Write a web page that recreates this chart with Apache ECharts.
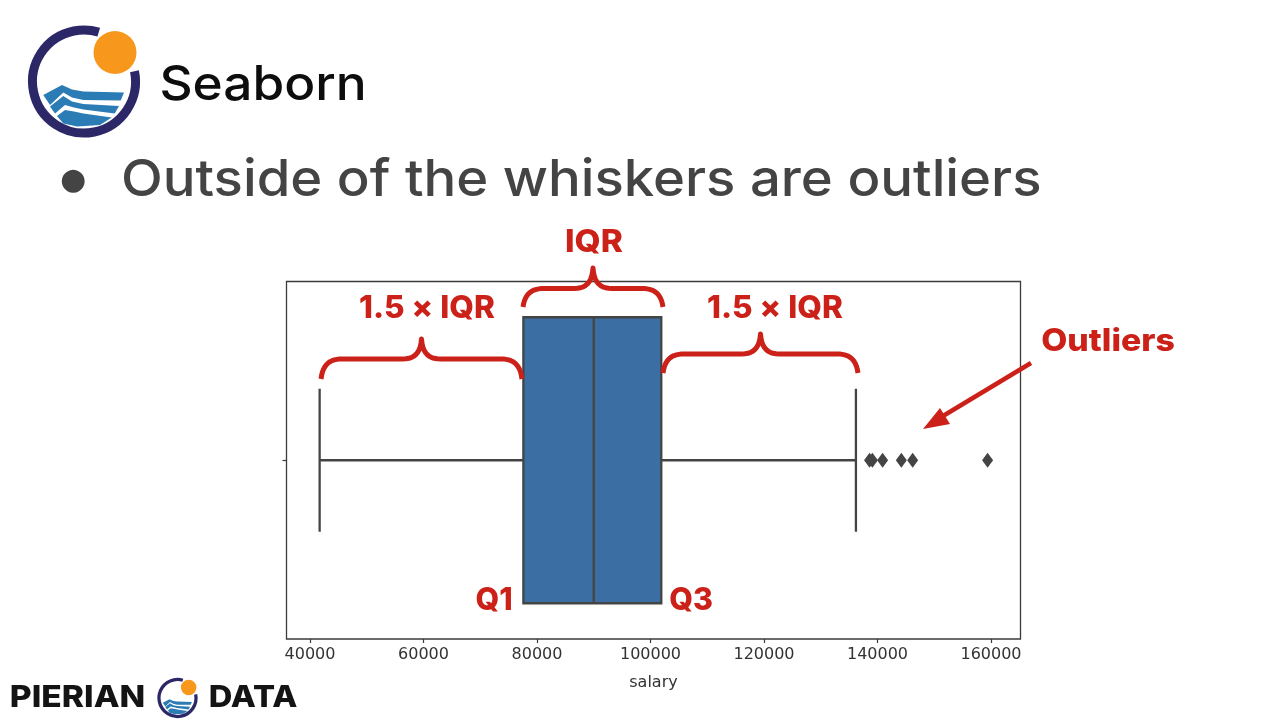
<!DOCTYPE html>
<html><head><meta charset="utf-8">
<style>html,body{margin:0;padding:0;background:#fff}#c{width:1280px;height:720px}</style>
<script src="https://cdn.jsdelivr.net/npm/echarts@6/dist/echarts.min.js"></script>
</head><body><div id="c"></div>
<script>
const boxStats = [41700, 77600, 90000, 101900, 136200];
const outliers = [138600, 139100, 140900, 144200, 146200, 159400];
const xTicks = [40000, 60000, 80000, 100000, 120000, 140000, 160000];
const categories = [''];
const RED = '#CB2118', GREY = '#444444', DARK = '#3b3b3b';
const HEAD = 'Inter, "Open Sans", sans-serif';

function bez(p0, p1, p2, p3, n) {
  const out = [];
  for (let i = 1; i <= n; i++) {
    const t = i / n, u = 1 - t;
    out.push([u*u*u*p0[0] + 3*u*u*t*p1[0] + 3*u*t*t*p2[0] + t*t*t*p3[0],
              u*u*u*p0[1] + 3*u*u*t*p1[1] + 3*u*t*t*p2[1] + t*t*t*p3[1]]);
  }
  return out;
}
function brace(x0, x1, yEnd, yMid, yTip) {
  const m = (x0 + x1) / 2, r = 21, tw = 19;
  let pts = [[x0, yEnd]];
  pts = pts.concat(bez([x0, yEnd], [x0 + 2, yMid + 4], [x0 + 10, yMid], [x0 + r, yMid], 12));
  pts.push([m - tw, yMid]);
  pts = pts.concat(bez([m - tw, yMid], [m - 7, yMid], [m - 1, yMid - 6], [m, yTip], 10));
  pts = pts.concat(bez([m, yTip], [m + 1, yMid - 6], [m + 7, yMid], [m + tw, yMid], 10));
  pts.push([x1 - r, yMid]);
  pts = pts.concat(bez([x1 - r, yMid], [x1 - 10, yMid], [x1 - 2, yMid + 4], [x1, yEnd], 12));
  return { type: 'polyline', z: 20, shape: { points: pts },
    style: { stroke: RED, lineWidth: 5, fill: null, lineCap: 'butt', lineJoin: 'round' } };
}
function label(text, cx, cy, size, sx, color, weight, font) {
  return { type: 'text', z: 20, x: cx, y: cy, scaleX: sx, scaleY: 1,
    style: { text, fill: color, font: (weight || 800) + ' ' + size + 'px ' + (font || HEAD),
             textAlign: 'center', textVerticalAlign: 'middle' } };
}
function logo(cx, cy, s) {
  const wave = pts => ({ type: 'polygon', shape: { points: pts }, style: { fill: '#2B7BB4' } });
  return { type: 'group', x: cx, y: cy, scaleX: s, scaleY: s, z: 15, children: [
    { type: 'arc', shape: { cx: 0, cy: 0, r: 51.5, startAngle: -0.2, endAngle: -1.28, clockwise: true },
      style: { stroke: '#2C2767', lineWidth: 9, fill: null } },
    { type: 'circle', shape: { cx: 31, cy: -29, r: 21.5 }, style: { fill: '#F7981D' } },
    wave([[-40.7, 13.5], [-22, 3.5], [-12, 8], [-0.7, 10], [40, 11], [36.7, 19], [-0.7, 18.5], [-12, 16], [-20.7, 11], [-34, 23.5]]),
    wave([[-34, 25], [-20.7, 14.5], [-12, 20], [-0.7, 22.5], [35, 24.5], [30.7, 32], [-0.7, 28], [-10, 26], [-19, 23.5], [-29, 32]]),
    wave([[-27, 34.5], [-19, 28.5], [-10, 30], [-0.7, 32], [27.7, 36], [16, 43.5], [-7, 45], [-20.7, 42]])
  ]};
}

const chart = echarts.init(document.getElementById('c'), null, { renderer: 'canvas' });
chart.setOption({
  animation: false,
  backgroundColor: '#ffffff',
  grid: { left: 286.5, right: 259.5, top: 281.5, bottom: 81, show: true,
          borderColor: DARK, borderWidth: 1.3, backgroundColor: 'transparent' },
  xAxis: { type: 'value', min: 35860, max: 165200, name: 'salary', nameLocation: 'middle', nameGap: 36,
    nameTextStyle: { fontFamily: 'DejaVu Sans', fontSize: 16, color: '#333' },
    splitLine: { show: false }, axisLine: { show: false },
    axisTick: { show: true, length: 4, customValues: xTicks, lineStyle: { color: DARK, width: 1.2 } },
    axisLabel: { show: true, customValues: xTicks, fontFamily: 'DejaVu Sans', fontSize: 16, color: '#333', margin: 8,
                 formatter: v => String(v) } },
  yAxis: { type: 'category', data: categories, axisLine: { show: false },
    axisTick: { show: true, alignWithLabel: true, length: 4, lineStyle: { color: DARK, width: 1.2 } },
    axisLabel: { show: false }, splitLine: { show: false } },
  series: [
    { type: 'custom', coordinateSystem: 'cartesian2d', clip: false, z: 3,
      encode: { x: [0, 1, 2, 3, 4] },
      data: [boxStats],
      renderItem(params, api) {
        const band = api.size([0, 1])[1];
        const y = api.coord([0, 0])[1];
        const X = i => api.coord([api.value(i), 0])[0];
        const hb = band * 0.4, hc = band * 0.2;
        const ls = { stroke: GREY, lineWidth: 2.3, fill: null };
        const ln = (x1, y1, x2, y2) => ({ type: 'line', shape: { x1, y1, x2, y2 }, style: ls });
        return { type: 'group', children: [
          ln(X(0), y, X(1), y), ln(X(3), y, X(4), y),
          ln(X(0), y - hc, X(0), y + hc), ln(X(4), y - hc, X(4), y + hc),
          { type: 'rect', shape: { x: X(1), y: y - hb, width: X(3) - X(1), height: 2 * hb },
            style: { fill: '#3B6FA3', stroke: GREY, lineWidth: 2.3 } },
          ln(X(2), y - hb, X(2), y + hb)
        ] };
      } },
    { type: 'scatter', symbol: 'diamond', symbolSize: [11, 15], z: 4,
      itemStyle: { color: GREY, opacity: 1 },
      data: outliers.map(v => [v, 0]) }
  ],
  graphic: { elements: [
    logo(84, 81.5, 1),
    logo(177.5, 698, 0.36),
    label('Seaborn', 263, 86, 48, 1.07, '#0d0d0d', 500),
    label('●', 73, 181, 30, 1, GREY, 400, 'DejaVu Sans'),
    { type: 'text', z: 20, x: 121, y: 181, scaleX: 1.068, scaleY: 1,
      style: { text: 'Outside of the whiskers are outliers', fill: GREY,
               font: '500 51px ' + HEAD, textAlign: 'left', textVerticalAlign: 'middle' } },
    label('PIERIAN', 77.5, 698, 30, 1.12, '#141414', 800),
    label('DATA', 253, 698, 30, 1.09, '#141414', 800),
    label('IQR', 594, 243, 31, 1.08, RED),
    label('1.5 × IQR', 427, 309, 31, 1.02, RED),
    label('1.5 × IQR', 775, 309, 31, 1.02, RED),
    label('Outliers', 1108, 342, 31, 1.09, RED),
    label('Q1', 494, 601, 31, 0.98, RED),
    label('Q3', 691, 601, 31, 0.98, RED),
    brace(523, 663, 307, 288.5, 268),
    brace(321, 522, 379, 359, 339),
    brace(663, 858, 373, 354, 334),
    { type: 'line', z: 20, shape: { x1: 1031, y1: 363, x2: 943, y2: 416 }, style: { stroke: RED, lineWidth: 4.5 } },
    { type: 'polygon', z: 20, shape: { points: [[923, 429], [940, 408], [950, 424]] }, style: { fill: RED } }
  ] }
});
</script></body></html>
